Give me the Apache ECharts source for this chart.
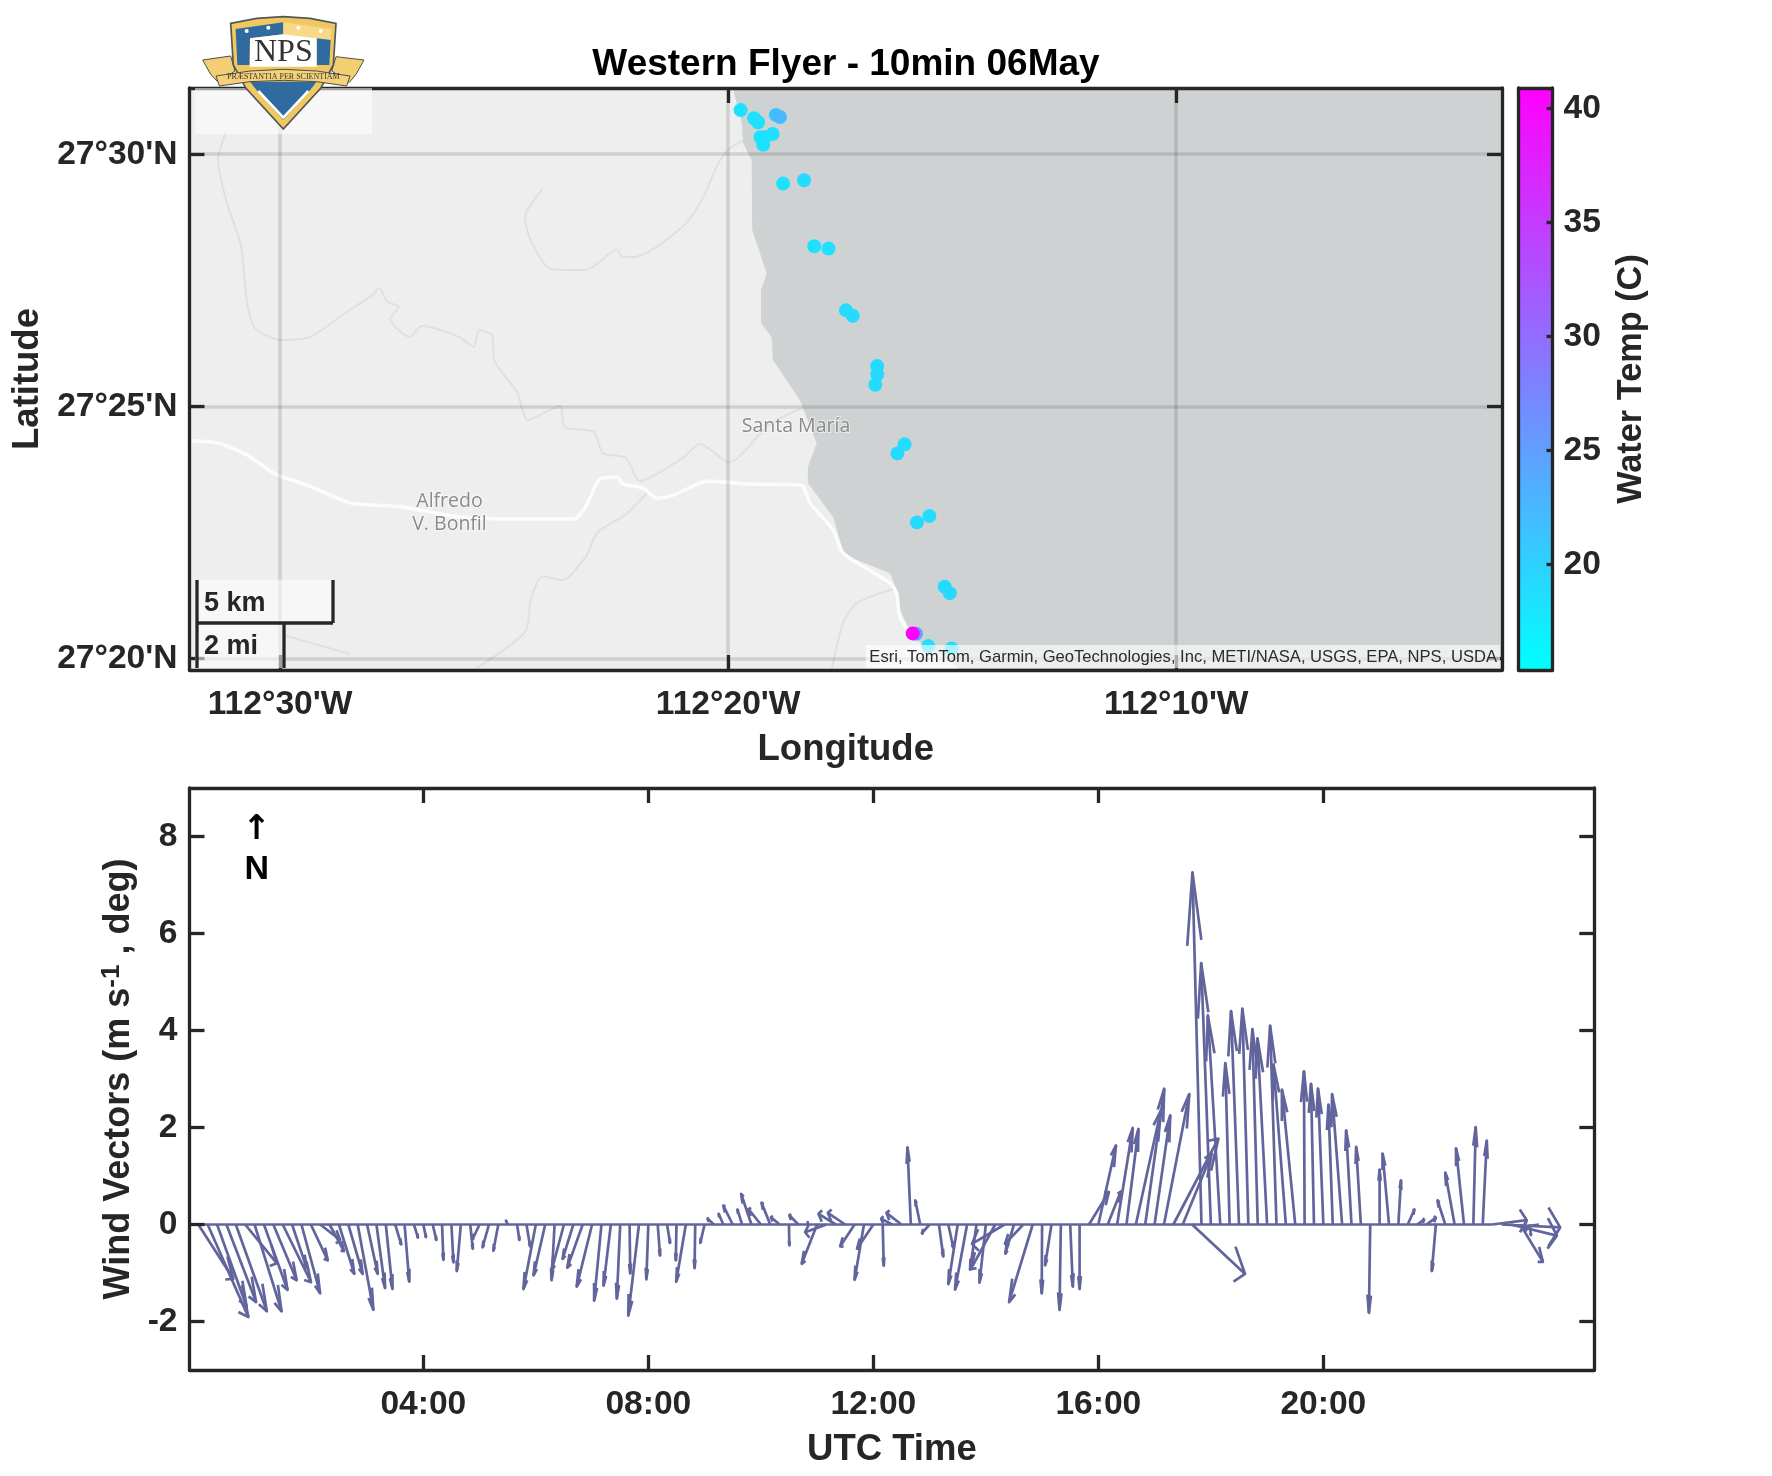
<!DOCTYPE html>
<html><head><meta charset="utf-8">
<style>html,body{margin:0;padding:0;background:#fff}#c{width:1772px;height:1476px}</style>
<script src="https://cdn.jsdelivr.net/npm/echarts@6/dist/echarts.min.js"></script>
</head><body><div id="c"></div>
<script>
// ---- ship track: longitude, latitude, water temperature (C)
const shipLon = [-112.3287,-112.3237,-112.3222,-112.3156,-112.3141,-112.3168,-112.3213,-112.3197,-112.3203,-112.3129,-112.3051,-112.3013,-112.2960,-112.2895,-112.2870,-112.2779,-112.2779,-112.2786,-112.2677,-112.2704,-112.2585,-112.2631,-112.2528,-112.2509,-112.2635,-112.2647,-112.2589,-112.2502];
const shipLat = [27.5146,27.5119,27.5106,27.5130,27.5123,27.5067,27.5056,27.5057,27.5031,27.4903,27.4914,27.4696,27.4688,27.4484,27.4466,27.4300,27.4272,27.4238,27.4041,27.4011,27.3804,27.3783,27.3570,27.3549,27.3415,27.3416,27.3374,27.3366];
const shipTemp = [18.3,18.5,18.5,21.5,22.3,18.6,18.3,18.3,18.4,18.4,18.9,18.4,18.6,18.9,18.9,19.0,19.0,19.0,18.8,19.2,18.8,19.2,19.0,19.2,24.5,40.9,18.8,18.8];

// ---- basemap geography, longitude / latitude
const coastLon = [-112.3316,-112.3283,-112.3278,-112.3246,-112.3244,-112.3190,-112.3211,-112.3211,-112.3172,-112.3167,-112.3066,-112.3004,-112.3037,-112.3037,-112.2943,-112.2906,-112.2880,-112.2731,-112.2707,-112.2694,-112.2646,-112.2590,-112.2519,-112.2471];
const coastLat = [27.5219,27.5104,27.5037,27.4981,27.4750,27.4607,27.4551,27.4442,27.4396,27.4320,27.4187,27.4045,27.3966,27.3913,27.3801,27.3691,27.3668,27.3615,27.3559,27.3493,27.3404,27.3367,27.3338,27.3295];
const mainRoadLon = [-112.5328,-112.5231,-112.5123,-112.5018,-112.4889,-112.4740,-112.4547,-112.4335,-112.4119,-112.3907,-112.3864,-112.3810,-112.3747,-112.3725,-112.3650,-112.3598,-112.3533,-112.3405,-112.3267,-112.3063,-112.3029,-112.2943,-112.2906,-112.2731,-112.2707,-112.2694,-112.2646];
const mainRoadLat = [27.4052,27.4045,27.4006,27.3943,27.3903,27.3848,27.3834,27.3801,27.3794,27.3794,27.3834,27.3926,27.3933,27.3910,27.3896,27.3863,27.3875,27.3920,27.3910,27.3906,27.3847,27.3758,27.3682,27.3582,27.3549,27.3470,27.3404];
const roadALon = [-112.5198,-112.5231,-112.5198,-112.5146,-112.5123,-112.5094,-112.4997,-112.4889,-112.4763,-112.4655,-112.4632,-112.4601,-112.4558,-112.4591,-112.4517,-112.4472,-112.4335,-112.4279,-112.4260,-112.4210,-112.4205,-112.4119,-112.4078,-112.3959,-112.3941,-112.3833,-112.3799,-112.3714,-112.3662,-112.3502,-112.3438,-112.3330,-112.3182,-112.3042];
const roadALat = [27.5080,27.4981,27.4839,27.4700,27.4512,27.4426,27.4386,27.4396,27.4472,27.4535,27.4558,27.4512,27.4495,27.4457,27.4396,27.4432,27.4396,27.4363,27.4419,27.4399,27.4323,27.4214,27.4121,27.4168,27.4098,27.4082,27.4012,27.3996,27.3920,27.3996,27.4042,27.3982,27.4105,27.4168];
const roadBLon = [-112.4024,-112.4089,-112.4067,-112.3993,-112.3864,-112.3747,-112.3725,-112.3684,-112.3502,-112.3427,-112.3373,-112.3330,-112.3271];
const roadBLat = [27.4885,27.4793,27.4713,27.4621,27.4617,27.4684,27.4660,27.4660,27.4761,27.4855,27.4965,27.5018,27.5047];
const roadCLon = [-112.3628,-112.3714,-112.3821,-112.3864,-112.3949,-112.4024,-112.4067,-112.4089,-112.4270];
const roadCLat = [27.3887,27.3810,27.3748,27.3668,27.3592,27.3605,27.3529,27.3420,27.3301];
const roadDLon = [-112.4986,-112.4740];
const roadDLat = [27.3410,27.3348];
const roadELon = [-112.2707,-112.2855,-112.2906,-112.2947];
const roadELat = [27.3566,27.3516,27.3450,27.3301];

// ---- map axes
const lonTicks = [-112.5,-112.33333,-112.16667];
const lonLabels = ["112°30'W","112°20'W","112°10'W"];
const latTicks = [27.33333,27.41667,27.5];
const latLabels = ["27°20'N","27°25'N","27°30'N"];
const tempTicks = [20,25,30,35,40];
const tempColors = ['#00ffff','#ff00ff'];

// ---- wind vectors: minute of the day, tip offset along the time axis (minutes), northward value
const windMinute = [0,10,20,30,40,50,60,70,80,90,100,110,120,130,140,150,160,170,180,190,200,210,220,230,240,250,260,270,280,290,300,310,320,330,340,350,360,370,380,390,400,410,420,430,440,450,460,470,480,490,500,510,520,530,540,550,560,570,580,590,600,610,620,630,640,650,660,670,680,690,700,710,720,730,740,750,760,770,780,790,800,810,820,830,840,850,860,870,880,890,900,910,920,930,940,950,960,970,980,990,1000,1010,1020,1030,1040,1050,1060,1070,1080,1090,1100,1110,1120,1130,1140,1150,1160,1170,1180,1190,1200,1210,1220,1230,1240,1250,1260,1270,1280,1290,1300,1310,1320,1330,1340,1350,1360,1370,1380,1390,1400,1410,1420,1430];
const windDt = [37.3,43.4,31.6,31.6,33.1,33.8,28.8,25.2,24.9,30.2,15.6,19.9,18.1,21.3,15.3,16.4,15.3,16.7,11.4,9.2,7.1,6.4,5,4.3,2.8,3.9,1.4,2.1,-4.3,2.8,-7.5,-6.8,-5.3,-1.8,2.5,3.9,-13.2,-12.4,-3.2,-13.2,-11.4,-16.4,-16.4,-7.8,-7.8,-3.6,0.7,-11.4,-2.1,2.5,3.2,-0.7,-10.3,-0.7,-4.6,-6.8,-5,-10,-5,-11,-13.2,-9.2,-9.2,0.4,-9.6,0,-16.4,-22.8,-18.5,-18.5,-15.3,-10,-17.4,1.1,-11.7,-16,-3.6,-5.3,-8.2,4.6,5.3,-10,-12.8,-6.8,-6.8,-26,-34.8,-9.2,-19.6,-25.2,-0.4,-6.8,-1.4,2.8,0,21.3,18.8,13.9,16.7,12.8,26.7,20.3,16.7,27,48,30.9,56.5,-9.6,-10.3,-13.2,-4.6,-8.5,-6.4,-5.7,-10.3,-6.8,-13.2,-14.2,-0.7,-3.2,-5.7,-4.6,-10.7,-5.7,-5,-1.4,0,-6.8,2.8,7.1,7.5,10,-4.3,-8.2,-10,-8.5,2.5,4.3,37,62.6,49.1,24.2,1.4,-16.4];
const windV = [-1.12,-1.91,-1.7,-1.6,-1.79,-0.8,-1.79,-1.35,-1.15,-1.19,-0.9,-1.42,-0.74,-0.32,-0.55,-1.02,-1.02,-1.76,-1.02,-1.31,-1.33,-0.41,-1.18,-0.27,-0.26,-0.32,-0.73,-0.78,-0.96,-0.5,-0.3,-0.47,-0.54,0.08,-0.32,-0.45,-1.33,-1.05,-1.15,-0.95,-0.71,-0.89,-1.28,-1.57,-1.26,-1.53,-1.01,-1.88,-1.13,-0.64,-0.38,-0.74,-1.18,-0.9,-0.38,0.12,0.22,0.39,0.31,0.63,0.32,0.45,0.15,-0.43,0.19,0.05,-0.81,-0.16,0.22,0.24,-0.45,-1.14,-0.5,-0.85,0.12,0.24,1.59,0.5,-0.18,-0.66,-0.48,-1.23,-1.34,-0.93,-1.2,-0.92,-0.4,-0.6,-0.4,-1.6,-1.42,-0.84,-1.76,-1.28,-1.33,0.67,1.63,0.68,1.99,1.97,2.35,2.8,2.25,2.69,1.77,1.46,-1.02,7.26,5.39,4.31,3.33,4.4,4.45,4.03,3.84,4.1,3.3,2.78,3.16,2.9,2.8,2.47,2.69,1.94,1.6,-1.82,1.13,1.46,0.91,0.31,0.1,0.14,-0.96,0.5,1.07,1.57,2.01,1.73,0.09,-0.06,-0.23,-0.77,-0.22,-0.05];
const windBaseMinutes = [0,1380];
const timeTicks = [240,480,720,960,1200];
const timeLabels = ['04:00','08:00','12:00','16:00','20:00'];
const windTicks = [-2,0,2,4,6,8];

const INK = '#262626', FONT = '"Liberation Sans", Arial, sans-serif', ARROW = '#62659c';
const chart = echarts.init(document.getElementById('c'), null, {renderer:'canvas'});

const zip = (a,b) => a.map((v,i)=>[v,b[i]]);
const tick = (vals, len) => ({show:true, inside:true, length:len, customValues:vals, lineStyle:{color:INK,width:3.3}});
const line = {show:true, onZero:false, lineStyle:{color:INK,width:3.3}};
const label = (vals, fmt, extra) => Object.assign({show:true, customValues:vals, formatter:fmt, color:INK, fontFamily:FONT, fontWeight:'bold', fontSize:33.6}, extra||{});
const name = {color:INK, fontFamily:FONT, fontWeight:'bold', fontSize:36.5};
const grids = [
  {left:189.5, top:88, width:1312.5, height:582, show:true, backgroundColor:'#eeeeee', borderWidth:0},
  {left:189.5, top:788, width:1404.8, height:582},
  {left:1518.5, top:88, width:34, height:582}
];
const lonLim = [-112.5337,-112.0455], latLim = [27.3295,27.5219];
const lookup = (ticks,labels) => v => { let b=0; ticks.forEach((t,i)=>{ if(Math.abs(t-v)<Math.abs(ticks[b]-v)) b=i; }); return labels[b]; };
const mapSplit = {show:true, lineStyle:{color:'rgba(38,38,38,0.15)', width:3.5}};

const xAxes = [
  {type:'value', gridIndex:0, position:'bottom', min:lonLim[0], max:lonLim[1], z:5, axisLine:line, axisTick:tick(lonTicks,15), splitLine:mapSplit,
   axisLabel:label(lonTicks, lookup(lonTicks,lonLabels), {margin:18}), name:'Longitude', nameLocation:'middle', nameGap:61, nameTextStyle:name},
  {type:'value', gridIndex:0, position:'top', min:lonLim[0], max:lonLim[1], z:5, axisLine:line, axisTick:tick(lonTicks,15), splitLine:{show:false}, axisLabel:{show:false}},
  {type:'value', gridIndex:1, position:'bottom', min:-9.4, max:1489, z:5, axisLine:line, axisTick:tick(timeTicks,15), splitLine:{show:false},
   axisLabel:label(timeTicks, lookup(timeTicks,timeLabels), {margin:17.5}), name:'UTC Time', nameLocation:'middle', nameGap:61, nameTextStyle:name},
  {type:'value', gridIndex:1, position:'top', min:-9.4, max:1489, z:5, axisLine:line, axisTick:tick(timeTicks,15), splitLine:{show:false}, axisLabel:{show:false}},
  {type:'value', gridIndex:2, position:'bottom', min:0, max:1, z:5, axisLine:line, axisTick:{show:false}, splitLine:{show:false}, axisLabel:{show:false}},
  {type:'value', gridIndex:2, position:'top', min:0, max:1, z:5, axisLine:line, axisTick:{show:false}, splitLine:{show:false}, axisLabel:{show:false}}
];
const yAxes = [
  {type:'value', gridIndex:0, position:'left', min:latLim[0], max:latLim[1], z:5, axisLine:line, axisTick:tick(latTicks,15), splitLine:mapSplit,
   axisLabel:label(latTicks, lookup(latTicks,latLabels), {margin:12, lineHeight:38, padding:[6,0,0,0]}), name:'Latitude', nameLocation:'middle', nameRotate:90, nameGap:137, nameTextStyle:name},
  {type:'value', gridIndex:0, position:'right', min:latLim[0], max:latLim[1], z:5, axisLine:line, axisTick:tick(latTicks,15), splitLine:{show:false}, axisLabel:{show:false}},
  {type:'value', gridIndex:1, position:'left', min:-3, max:9, z:5, axisLine:line, axisTick:tick(windTicks,15), splitLine:{show:false},
   axisLabel:label(windTicks, v=>String(Math.round(v)), {margin:12, lineHeight:38, padding:[6,0,0,0]}),
   name:'Wind Vectors (m s{sup|-1} , deg)', nameLocation:'middle', nameRotate:90, nameGap:50,
   nameTextStyle:Object.assign({},name,{fontSize:36,rich:{sup:{color:INK,fontFamily:FONT,fontWeight:'bold',fontSize:26,padding:[0,0,14,0]}}})},
  {type:'value', gridIndex:1, position:'right', min:-3, max:9, z:5, axisLine:line, axisTick:tick(windTicks,15), splitLine:{show:false}, axisLabel:{show:false}},
  {type:'value', gridIndex:2, position:'right', min:15.36, max:40.9, z:5, axisLine:line, axisTick:tick(tempTicks,6), splitLine:{show:false},
   axisLabel:label(tempTicks, v=>String(Math.round(v)), {margin:11, lineHeight:38, padding:[6,0,0,0]}), name:'Water Temp (C)', nameLocation:'middle', nameRotate:90, nameGap:62,
   nameTextStyle:Object.assign({},name,{fontSize:34.3})},
  {type:'value', gridIndex:2, position:'left', min:15.36, max:40.9, z:5, axisLine:line, axisTick:{show:false}, splitLine:{show:false}, axisLabel:{show:false}}
];

const road = (lon,lat,color,width,z) => ({type:'line', xAxisIndex:0, yAxisIndex:0, data:zip(lon,lat), showSymbol:false, silent:true, z:z,
  lineStyle:{color:color,width:width}, smooth:0.25, animation:false});

const series = [
  road(roadALon,roadALat,'#e0e0e0',2,1), road(roadBLon,roadBLat,'#e0e0e0',2,1), road(roadCLon,roadCLat,'#e0e0e0',2,1),
  road(roadDLon,roadDLat,'#e0e0e0',2,1), road(roadELon,roadELat,'#e0e0e0',2,1),
  {type:'custom', xAxisIndex:0, yAxisIndex:0, z:2, silent:true, animation:false, data:[0], clip:true,
   renderItem:(p,api)=>{
     const pts = coastLon.map((v,i)=>api.coord([v,coastLat[i]]));
     pts.push(api.coord([lonLim[1],latLim[0]]), api.coord([lonLim[1],latLim[1]]));
     return {type:'polygon', shape:{points:pts}, style:{fill:'#cfd2d3'}};
   }},
  road(mainRoadLon,mainRoadLat,'#fcfcfc',3.5,3),
  {type:'scatter', xAxisIndex:0, yAxisIndex:0, z:6, symbolSize:14, animation:false, silent:true,
   data:shipLon.map((v,i)=>[v,shipLat[i],shipTemp[i]]), itemStyle:{opacity:1}, clip:true},
  {type:'line', xAxisIndex:2, yAxisIndex:2, z:3, data:windBaseMinutes.map(m=>[m,0]), showSymbol:false, silent:true, animation:false, lineStyle:{color:ARROW,width:2.6}},
  {type:'custom', xAxisIndex:2, yAxisIndex:2, z:4, silent:true, animation:false, clip:false,
   data:windMinute.map((m,i)=>[m,windDt[i],windV[i]]),
   renderItem:(p,api)=>{
     const t=api.value(0), dt=api.value(1), v=api.value(2);
     const a=api.coord([t,0]), b=api.coord([t+dt,v]);
     const dx=b[0]-a[0], dy=b[1]-a[1];
     const s={stroke:ARROW, lineWidth:2.7, fill:null, lineJoin:'round'};
     const h1=[b[0]-0.2*dx+0.02*dy, b[1]-0.2*dy-0.33*dx];
     const h2=[b[0]-0.2*dx-0.02*dy, b[1]-0.2*dy+0.33*dx];
     return {type:'group', children:[
       {type:'polyline', shape:{points:[a,b]}, style:s},
       {type:'polyline', shape:{points:[h1,b,h2]}, style:s}
     ]};
   }},
  {type:'custom', xAxisIndex:4, yAxisIndex:4, z:2, silent:true, animation:false, data:[0],
   renderItem:(p,api)=>{
     const tl=api.coord([0,40.9]), br=api.coord([1,15.36]);
     return {type:'rect', shape:{x:tl[0],y:tl[1],width:br[0]-tl[0],height:br[1]-tl[1]},
       style:{fill:new echarts.graphic.LinearGradient(0,1,0,0,[{offset:0,color:tempColors[0]},{offset:1,color:tempColors[1]}])}};
   }}
];

const OVER = 20;
const txt = (x,y,t,size,color,extra) => ({type:'text', z:OVER, silent:true, x:x, y:y,
  style:Object.assign({text:t, font:(extra&&extra.weight||'bold')+' '+size+'px '+FONT, fill:color, textAlign:'center', textVerticalAlign:'middle'}, extra&&extra.style||{})});
const rect = (x,y,w,h,fill) => ({type:'rect', z:OVER, silent:true, shape:{x,y,width:w,height:h}, style:{fill}});
const seg = (x1,y1,x2,y2) => ({type:'line', z:OVER+1, silent:true, shape:{x1,y1,x2,y2}, style:{stroke:INK,lineWidth:3.3}});
const mapName = (x,y,t) => ({type:'text', z:4, silent:true, x, y, style:{text:t, font:'19.5px "Open Sans"', fill:'#8a8a8a', textAlign:'center', textVerticalAlign:'middle', stroke:'rgba(255,255,255,0.55)', lineWidth:2}});

// NPS crest, drawn from simple shapes in a local frame
const poly = (pts,fill,stroke,lw) => ({type:'polygon', z:OVER+2, silent:true, shape:{points:pts}, style:{fill, stroke:stroke||null, lineWidth:lw||0}});
const star = (x,y) => ({type:'circle', z:OVER+3, silent:true, shape:{cx:x,cy:y,r:6}, style:{fill:'#ffffff'}});
const crest = {type:'group', x:190, y:5, scaleX:1/3, scaleY:1/3, silent:true, children:[
  poly([[38,165],[122,153],[135,198],[85,232],[62,208]],'#f2cf72','#4d4d4d',3),
  poly([[438,155],[522,165],[498,208],[478,232],[425,198]],'#f2cf72','#4d4d4d',3),
  poly([[122,55],[200,40],[280,35],[360,40],[438,55],[430,180],[392,250],[280,372],[168,250],[130,180]],'#efc860','#555555',5),
  poly([[137,72],[280,52],[280,88],[180,100],[178,180],[142,180]],'#2f6b9f'),
  poly([[280,52],[424,72],[422,105],[280,88]],'#f7d988'),
  poly([[380,100],[422,105],[418,180],[380,180]],'#2f6b9f'),
  poly([[180,100],[280,88],[380,100],[380,185],[180,185]],'#ffffff'),
  {type:'text', z:OVER+3, silent:true, x:280, y:142, style:{text:'NPS', font:'96px "Liberation Serif"', fill:'#333333', textAlign:'center', textVerticalAlign:'middle'}},
  poly([[180,230],[380,230],[355,262],[280,345],[205,262]],'#2f6b9f'),
  {type:'polyline', z:OVER+3, silent:true, shape:{points:[[205,258],[280,338],[355,258]]}, style:{stroke:'#ffffff',lineWidth:8,fill:null}},
  poly([[78,213],[180,198],[280,193],[380,198],[480,213],[470,243],[380,230],[280,226],[180,230],[88,243]],'#f5d27a','#4d4d4d',3),
  {type:'text', z:OVER+3, silent:true, x:280, y:215, style:{text:'PRÆSTANTIA PER SCIENTIAM', font:'24px "Liberation Serif"', fill:'#333333', textAlign:'center', textVerticalAlign:'middle'}},
  star(170,78),star(235,68),star(325,68),star(392,78)
]};

const graphics = [
  mapName(796,426,'Santa María'), mapName(449.5,501.6,'Alfredo'), mapName(449.5,524,'V. Bonfil'),
  rect(195,88,177,46,'rgba(255,255,255,0.55)'),
  rect(195,580,138,43,'rgba(255,255,255,0.55)'),
  rect(195,623,89,45,'rgba(255,255,255,0.55)'),
  seg(197,580,197,668), seg(197,623,333,623), seg(333,580,333,623), seg(284,623,284,668),
  txt(204,604,'5 km',27,INK,{style:{textAlign:'left'}}),
  txt(204,647,'2 mi',27,INK,{style:{textAlign:'left'}}),
  rect(866,645,634,23,'rgba(255,255,255,0.62)'),
  txt(1497,657,'Esri, TomTom, Garmin, GeoTechnologies, Inc, METI/NASA, USGS, EPA, NPS, USDA',16.6,'#2b2b2b',{weight:'normal',style:{textAlign:'right'}}),
  txt(846,65,'Western Flyer - 10min 06May',37,'#000000'),
  {type:'text', z:OVER, silent:true, x:256.7, y:830, style:{text:'↑', font:'bold 34px "DejaVu Sans"', fill:'#000', textAlign:'center', textVerticalAlign:'middle'}},
  txt(256.7,870,'N',34,'#000000'),
  crest
];

chart.setOption({
  animation:false,
  backgroundColor:'#ffffff',
  grid:grids, xAxis:xAxes, yAxis:yAxes, series:series,
  visualMap:{type:'continuous', show:false, min:15.36, max:40.9, dimension:2, seriesIndex:7, inRange:{color:tempColors}},
  graphic:{elements:graphics}
});
</script></body></html>
